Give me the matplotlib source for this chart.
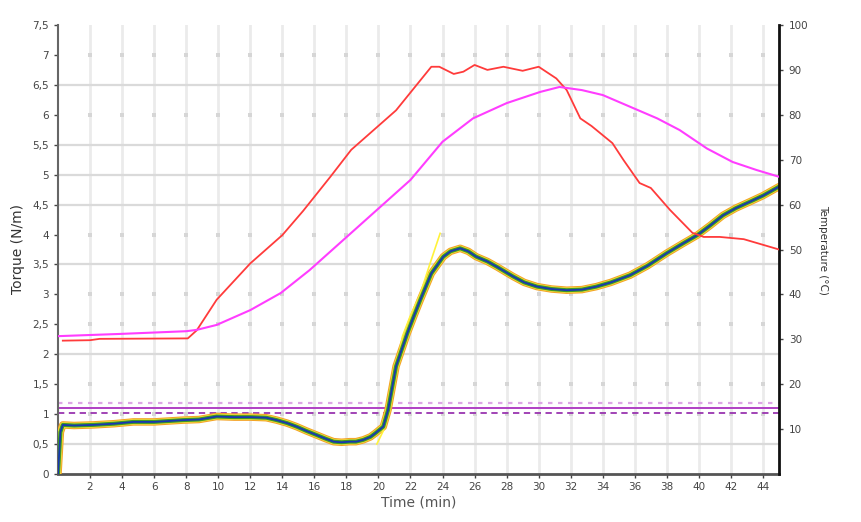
import matplotlib
matplotlib.use("Agg")
import matplotlib.pyplot as plt
import numpy as np

# ---- data ----
time_torque = [0, 0.15, 0.3, 1, 2.2, 3.5, 4.7, 6, 7.8, 8.8, 9.9, 11, 12, 13, 13.65, 14.3,
               14.9, 15.5, 16.15, 16.7, 17.2, 17.7, 18.2, 18.6, 19.05, 19.5, 19.8, 20.3,
               20.6, 21.1, 21.8, 22.2, 22.6, 23.3, 24.05, 24.5, 25.1, 25.6, 26.1, 26.8,
               27.4, 28.4, 29.1, 29.9, 30.8, 31.75, 32.7, 33.6, 34.5, 35.7, 36.8, 38.0,
               39.0, 39.9, 40.7, 41.5, 42.3, 43.2, 44.0, 44.6, 45]
torque = [0, 0.7, 0.82, 0.81, 0.82, 0.84, 0.87, 0.87, 0.9, 0.91, 0.96, 0.95, 0.95, 0.94,
          0.9, 0.85, 0.79, 0.72, 0.65, 0.59, 0.54, 0.53, 0.54, 0.54, 0.57, 0.62, 0.68,
          0.79, 1.07, 1.8, 2.35, 2.63, 2.9, 3.35, 3.63, 3.72, 3.77, 3.72, 3.63, 3.55,
          3.46, 3.3, 3.2, 3.13, 3.09, 3.07, 3.08, 3.13, 3.2, 3.32, 3.48, 3.69, 3.85,
          3.99, 4.15, 4.32, 4.44, 4.55, 4.65, 4.74, 4.8]

time_fit = [19.9, 20.3, 20.8, 21.5, 22.0, 22.6, 23.2, 23.85]
torque_fit = [0.5, 0.72, 1.35, 2.3, 2.65, 3.0, 3.5, 4.02]

time_red = [0.3, 2, 2.6, 8.1, 8.66, 9.9, 12, 14, 15.3, 17, 18.3, 21.1, 23.3, 23.8, 24.7,
            25.3, 26.0, 26.8, 27.8, 29.0, 30.0, 31.1, 31.75, 32.6, 33.3, 34.6, 35.3,
            36.3, 37.0, 38.2, 39.6, 40.3, 41.3, 42.8, 45]
temp_red = [29.7, 29.8, 30.1, 30.2, 32, 38.8, 46.9, 53.2, 58.6, 66.2, 72.2, 81, 90.7,
            90.7, 89.1, 89.6, 91.1, 90, 90.7, 89.8, 90.7, 88.1, 85.5, 79.2, 77.5, 73.7,
            69.9, 64.8, 63.7, 58.8, 53.7, 52.8, 52.8, 52.3, 50.0]

time_mag = [0, 3.9, 8.0, 8.66, 9.9, 12, 13.9, 15.7, 17.8, 19.9, 22.0, 24.0, 25.9, 28.0,
            30.1, 31.3, 32.7, 34.0, 35.7, 37.4, 38.8, 40.5, 42.1, 43.6, 45]
temp_mag = [30.7, 31.2, 31.8, 32.1, 33.2, 36.5, 40.3, 45.4, 52.1, 58.8, 65.5, 74, 79.2,
            82.6, 85.1, 86.2, 85.5, 84.4, 81.8, 79.2, 76.6, 72.5, 69.5, 67.7, 66.2]

limit_upper = 1.19
limit_mid = 1.1
limit_lower = 1.02

x_ticks = list(range(2, 45, 2))
torque_ticks = [i * 0.5 for i in range(16)]
temp_ticks = list(range(10, 101, 10))
hgrid_levels = [0.5, 2.0, 3.5, 4.5, 5.0, 5.5, 6.5]
dot_levels = [1.0, 1.5, 2.5, 3.0, 4.0, 6.0, 7.0]

# ---- figure ----
fig = plt.figure(figsize=(8.62, 5.22), dpi=100)
ax = fig.add_axes([58 / 862, 48 / 522, (779 - 58) / 862, (474 - 25) / 522])
ax2 = ax.twinx()

ax.set_xlim(0, 45)
ax.set_ylim(0, 7.5)
ax2.set_ylim(0, 100)

# grid
for x in x_ticks:
    ax.axvline(x, color="#ebebeb", lw=2.0, zorder=0)
for y in hgrid_levels:
    ax.axhline(y, color="#dadada", lw=1.6, zorder=0)
gx, gy = np.meshgrid(x_ticks, dot_levels)
ax.scatter(gx.ravel(), gy.ravel(), marker="s", s=5, color="#d6d6d6", lw=0, zorder=0.5)

# limit lines
ax.axhline(limit_upper, color="#dda6e6", lw=1.6, ls=(0, (2, 2.5)), zorder=2)
ax.axhline(limit_mid, color="#b040c4", lw=1.4, zorder=2.1)
ax.axhline(limit_lower, color="#9a35b0", lw=1.3, ls=(0, (3.5, 2.5)), zorder=2)

# torque band
ax.plot(time_torque, torque, color="#f4a224", lw=5.4, solid_capstyle="round", zorder=3)
ax.plot(time_torque, torque, color="#f0e040", lw=4.0, zorder=3.2)
ax.plot(time_torque, torque, color="#3f9a22", lw=2.9, zorder=3.4)
ax.plot(time_torque, torque, color="#1838b0", lw=1.3, zorder=3.6)
ax.plot(time_fit, torque_fit, color="#fff23a", lw=1.2, zorder=3.1)

# temperatures (right axis)
ax2.plot(time_red, temp_red, color="#ff3b3b", lw=1.3, zorder=3)
ax2.plot(time_mag, temp_mag, color="#ff3dff", lw=1.5, zorder=3)

# ticks and labels
ax.set_xticks(x_ticks)
ax.set_xticklabels([str(v) for v in x_ticks])
ax.set_yticks(torque_ticks)
ax.set_yticklabels([("%g" % v).replace(".", ",") for v in torque_ticks])
ax2.set_yticks(temp_ticks)
ax2.set_yticklabels([str(v) for v in temp_ticks])

for a in (ax, ax2):
    a.tick_params(labelsize=7.5, colors="#444444", length=3, width=1)
ax.tick_params(axis="x", pad=3)
ax2.tick_params(axis="y", colors="#444444", pad=4)

ax.spines["top"].set_visible(False)
ax2.spines["top"].set_visible(False)
ax.spines["left"].set_color("#666666")
ax.spines["left"].set_linewidth(1.5)
ax.spines["bottom"].set_color("#555555")
ax.spines["bottom"].set_linewidth(2)
ax2.spines["left"].set_visible(False)
ax2.spines["bottom"].set_visible(False)
ax2.spines["right"].set_color("#111111")
ax2.spines["right"].set_linewidth(2)
ax.spines["right"].set_visible(False)

ax.set_xlabel("Time (min)", fontsize=10, color="#555555", labelpad=2)
ax.set_ylabel("Torque (N/m)", fontsize=10, color="#333333", labelpad=5)
ax2.set_ylabel("Temperature (°C)", fontsize=7.5, color="#333333", rotation=270, labelpad=14)

fig.savefig("out.png", dpi=100, facecolor="white")
